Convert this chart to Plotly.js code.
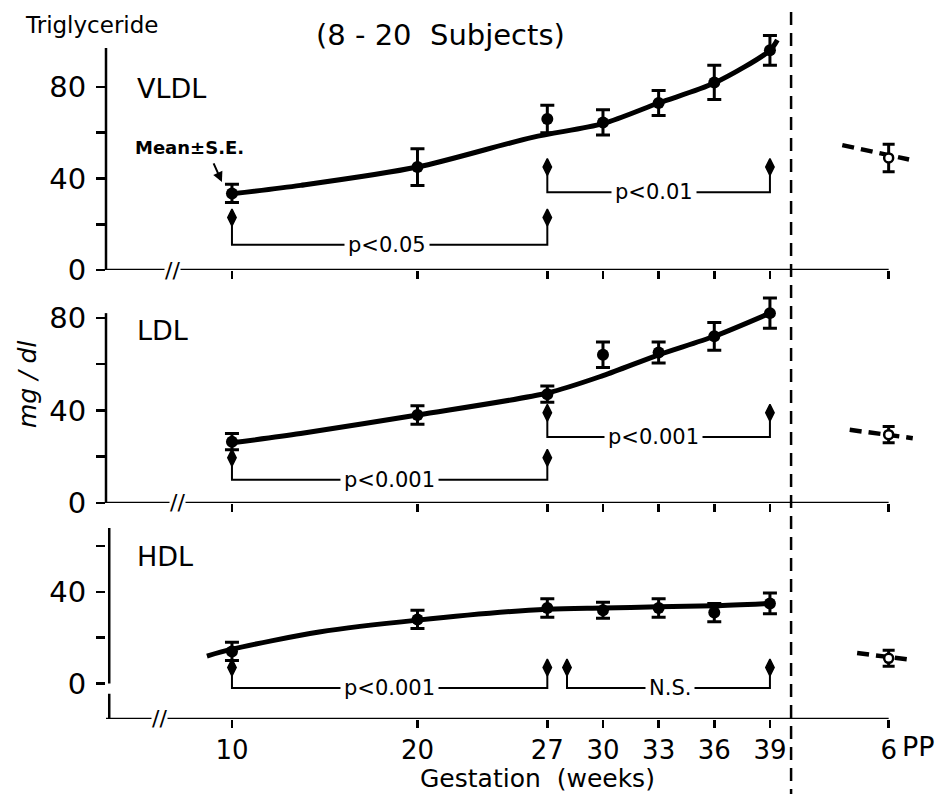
<!DOCTYPE html>
<html><head><meta charset="utf-8">
<script src="https://cdn.plot.ly/plotly-3.0.1.min.js"></script>
<style>html,body{margin:0;padding:0;background:#fff}#chart{width:942px;height:794px}</style>
</head><body><div id="chart"></div>
<script>
// ---- data ----
const weeks = [10, 20, 27, 30, 33, 36, 39];
const weekLabels = ['10', '20', '27', '30', '33', '36', '39'];
const ppWeek = 45.4;          // 6 weeks post partum, placed after the break
const ppLabel = '6';

const vldlMean = [33.5, 45, 66, 64.5, 73, 82, 96];
const vldlSE   = [4, 8, 6, 5.5, 5.5, 7.5, 6.5];
const ldlMean  = [26.5, 38, 47, 64, 65, 72, 82];
const ldlSE    = [3.5, 4, 3.5, 5.5, 4.5, 6, 6.5];
const hdlMean  = [14, 28, 33, 32, 33, 31, 35];
const hdlSE    = [4, 4, 4, 3.5, 4, 4, 4.5];

const vldlPP = 49,   vldlPPse = 6;
const ldlPP  = 29.5, ldlPPse  = 3.5;
const hdlPP  = 11,   hdlPPse  = 3.5;

// fitted curves
const vldlFitX = [10, 13.7, 20, 26.2, 30, 33, 36, 39, 39.4];
const vldlFitY = [33.3, 37, 45, 58, 64, 73, 81.7, 96, 100.5];
const ldlFitX  = [10, 13.7, 20, 27, 30, 33, 36, 39];
const ldlFitY  = [26, 30, 38, 47.5, 55, 64, 72, 82];
const hdlFitX  = [8.65, 10, 14.7, 20, 27, 30, 33, 36, 39];
const hdlFitY  = [12, 15, 22.5, 27.7, 32.5, 33, 33.5, 34, 35];

// post-partum dashed segments
const vldlPPLineX = [42.9, 46.5], vldlPPLineY = [54.6, 48.3];
const ldlPPLineX  = [43.3, 46.7], ldlPPLineY  = [31.6, 28];
const hdlPPLineX  = [43.7, 46.7], hdlPPLineY  = [13.3, 10.3];

// significance brackets: panel, from, to, level, arrow top, label, label position
const brPanel = [1, 1, 2, 2, 3, 3];
const brFrom  = [10, 27, 10, 27, 10, 28.06];
const brTo    = [27, 39, 27, 39, 27, 39];
const brLevel = [11, 34, 10, 28.5, -2, -2];
const brTop   = [23, 45, 19.5, 39, 7, 7];
const brText  = ['p<0.05', 'p<0.01', 'p<0.001', 'p<0.001', 'p<0.001', 'N.S.'];
const brTextX = [18.36, 32.75, 18.5, 32.75, 18.5, 33.6];

// ---- figure ----
const FONT = 'DejaVu Sans, Liberation Sans, sans-serif';
const xr = [3.21, 46.82];
const yaxisNames = ['y', 'y2', 'y3'];
const xaxisNames = ['x', 'x2', 'x3'];

const traces = [];
function addPanel(p, fx, fy, mean, se, ppLx, ppLy, ppV, ppSE) {
  const xa = xaxisNames[p], ya = yaxisNames[p];
  traces.push({x: fx, y: fy, xaxis: xa, yaxis: ya, mode: 'lines', type: 'scatter',
    line: {color: '#000', width: 5, shape: 'spline', smoothing: 0.8}, hoverinfo: 'skip'});
  traces.push({x: weeks, y: mean, xaxis: xa, yaxis: ya, mode: 'markers', type: 'scatter',
    marker: {color: '#000', size: 12, symbol: 'circle'},
    error_y: {type: 'data', array: se, visible: true, color: '#000', thickness: 3, width: 7}});
  traces.push({x: ppLx, y: ppLy, xaxis: xa, yaxis: ya, mode: 'lines', type: 'scatter',
    line: {color: '#000', width: 4.5, dash: '12px,7px'}, hoverinfo: 'skip'});
  traces.push({x: [ppWeek], y: [ppV], xaxis: xa, yaxis: ya, mode: 'markers', type: 'scatter',
    marker: {color: '#fff', size: 9, symbol: 'circle', line: {color: '#000', width: 2.5}},
    error_y: {type: 'data', array: [ppSE], visible: true, color: '#000', thickness: 3, width: 6}});
}
addPanel(0, vldlFitX, vldlFitY, vldlMean, vldlSE, vldlPPLineX, vldlPPLineY, vldlPP, vldlPPse);
addPanel(1, ldlFitX, ldlFitY, ldlMean, ldlSE, ldlPPLineX, ldlPPLineY, ldlPP, ldlPPse);
addPanel(2, hdlFitX, hdlFitY, hdlMean, hdlSE, hdlPPLineX, hdlPPLineY, hdlPP, hdlPPse);

const annotations = [];
for (let i = 0; i < brText.length; i++) {
  const p = brPanel[i] - 1;
  traces.push({
    x: [brFrom[i], brFrom[i], brTo[i], brTo[i]],
    y: [brTop[i], brLevel[i], brLevel[i], brTop[i]],
    xaxis: xaxisNames[p], yaxis: yaxisNames[p], mode: 'lines', type: 'scatter',
    line: {color: '#000', width: 2}, hoverinfo: 'skip'
  });
  traces.push({
    x: [brFrom[i], brTo[i]], y: [brTop[i], brTop[i]],
    xaxis: xaxisNames[p], yaxis: yaxisNames[p], mode: 'markers', type: 'scatter',
    marker: {color: '#000', symbol: 'diamond-tall', size: 12, opacity: 1,
      line: {color: '#000', width: 1.5}}, hoverinfo: 'skip'
  });
  annotations.push({text: brText[i], x: brTextX[i], y: brLevel[i], xref: xaxisNames[p], yref: yaxisNames[p],
    xanchor: 'center', yanchor: 'middle',
    showarrow: false, bgcolor: '#fff', borderpad: 3, font: {family: FONT, size: 21, color: '#000'}});
}

// text labels
const T = (text, x, y, size, extra) => Object.assign({text, x, y, xref: 'paper', yref: 'paper',
  xanchor: 'center', yanchor: 'middle',
  showarrow: false, font: {family: FONT, size, color: '#000'}}, extra || {});
annotations.push(T('Triglyceride', -0.103, 1 - 25 / 794, 23, {xanchor: 'left'}));
annotations.push(T('(8 - 20  Subjects)', (440 - 106) / 809, 1 - 35 / 794, 29));
annotations.push(T('VLDL', 0.036, 1 - 88 / 794, 27, {xanchor: 'left'}));
annotations.push(T('LDL', 0.036, 1 - 330 / 794, 27, {xanchor: 'left'}));
annotations.push(T('HDL', 0.036, 1 - 556 / 794, 27, {xanchor: 'left'}));
annotations.push(T('<b>Mean±S.E.</b>', 0.033, 1 - 147 / 794, 18, {xanchor: 'left'}));
annotations.push(T('<i>mg / dl</i>', (27 - 106) / 809, 1 - 385 / 794, 25, {textangle: -90}));
annotations.push(T('Gestation  (weeks)', (537 - 106) / 809, 1 - 778 / 794, 25));
annotations.push({text: 'PP', x: ppWeek, y: 1 - 746 / 794, xref: 'x3', yref: 'paper', xanchor: 'left',
  yanchor: 'middle', xshift: 11,
  showarrow: false, font: {family: FONT, size: 27, color: '#000'}});
annotations.push({text: '', x: 9.46, y: 38.5, xref: 'x', yref: 'y', showarrow: true,
  ax: -9, ay: -20, arrowhead: 2, arrowsize: 1, arrowwidth: 2, arrowcolor: '#000'});
// axis breaks
[['x', 'y', 6.82, 0], ['x2', 'y2', 7.04, 0], ['x3', 'y3', 6.12, -15.5]].forEach(b => {
  annotations.push({text: '//', x: b[2], y: b[3], xref: b[0], yref: b[1], showarrow: false,
    xanchor: 'center', yanchor: 'middle',
    bgcolor: '#fff', borderpad: 0, font: {family: FONT, size: 22, color: '#000'}});
});

const shapes = [];
const L = {color: '#000', width: 2.5};
// y axis lines
shapes.push({type: 'line', xref: 'paper', x0: 0, x1: 0, yref: 'y', y0: 0, y1: 97, line: L});
shapes.push({type: 'line', xref: 'paper', x0: 0, x1: 0, yref: 'y2', y0: 0, y1: 82, line: L});
shapes.push({type: 'line', xref: 'paper', x0: 0.004, x1: 0.004, yref: 'y3', y0: 0, y1: 68, line: L});
// x axis lines
shapes.push({type: 'line', xref: 'x', x0: xr[0], x1: ppWeek, yref: 'y', y0: 0, y1: 0, line: L});
shapes.push({type: 'line', xref: 'x2', x0: xr[0], x1: ppWeek, yref: 'y2', y0: 0, y1: 0, line: L});
shapes.push({type: 'line', xref: 'x3', x0: xr[0], x1: ppWeek, yref: 'y3', y0: -15.5, y1: -15.5, line: L});
shapes.push({type: 'line', xref: 'paper', x0: 0.004, x1: 0.004, yref: 'y3', y0: -15.5, y1: -4.5, line: L});
// delivery line
shapes.push({type: 'line', xref: 'x', x0: 40.14, x1: 40.14, yref: 'paper', y0: -0.01, y1: 0.987,
  line: {color: '#000', width: 2.5, dash: '13px,8px'}});

const tickV = weeks.concat([ppWeek]);
const tickT = weekLabels.concat([ppLabel]);
const xBase = {range: xr, showgrid: false, zeroline: false, showline: false, ticks: 'outside',
  ticklen: 8, tickwidth: 2.5, tickcolor: '#000', tickmode: 'array', tickvals: tickV, ticktext: tickT,
  fixedrange: true};
const yBase = {showgrid: false, zeroline: false, showline: false, ticks: 'outside', ticklen: 9,
  tickwidth: 2.5, tickcolor: '#000', tickmode: 'array', tickvals: [0, 20, 40, 60, 80],
  ticktext: ['0', '', '40', '', '80'], ticklabelstandoff: 4,
  tickfont: {family: FONT, size: 29, color: '#000'}, fixedrange: true};

const layout = {
  width: 942, height: 794, margin: {l: 106, r: 27, t: 0, b: 0},
  paper_bgcolor: '#fff', plot_bgcolor: 'rgba(0,0,0,0)', showlegend: false,
  font: {family: FONT, color: '#000'},
  xaxis: Object.assign({}, xBase, {anchor: 'y', showticklabels: false}),
  xaxis2: Object.assign({}, xBase, {anchor: 'y2', showticklabels: false}),
  xaxis3: Object.assign({}, xBase, {anchor: 'y3', showticklabels: true, ticklabelstandoff: 0,
    tickfont: {family: FONT, size: 26, color: '#000'}}),
  yaxis: Object.assign({}, yBase, {anchor: 'x', domain: [0.6599, 0.9625], range: [0, 105]}),
  yaxis2: Object.assign({}, yBase, {anchor: 'x2', domain: [0.3665, 0.6348], range: [0, 92]}),
  yaxis3: Object.assign({}, yBase, {anchor: 'x3', domain: [0.0945, 0.3409], range: [-15.5, 70],
    tickvals: [0, 20, 40, 60], ticktext: ['0', '', '40', '']}),
  annotations, shapes
};
Plotly.newPlot('chart', traces, layout, {displayModeBar: false, staticPlot: true});
</script>
</body></html>
